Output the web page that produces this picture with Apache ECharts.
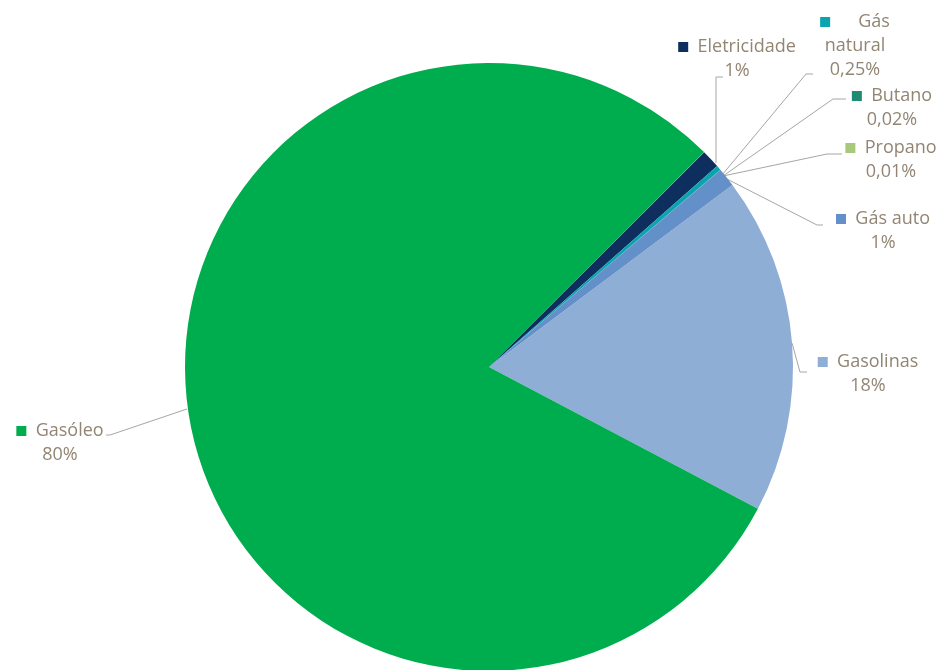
<!DOCTYPE html>
<html>
<head>
<meta charset="utf-8">
<script src="https://cdn.jsdelivr.net/npm/echarts@6/dist/echarts.min.js"></script>
<style>
  html, body { margin: 0; padding: 0; background: #fff; }
  #chart { width: 941px; height: 670px; }
</style>
</head>
<body>
<div id="chart"></div>
<script>
// Energy consumption share by fuel type (%)
const categories = ['Gasolinas', 'Gasóleo', 'Propano', 'Eletricidade', 'Gás natural', 'Butano', 'Gás auto'];
const shares = [18, 80, 0.01, 1, 0.25, 0.02, 1];
const labelNames = ['Gasolinas', 'Gasóleo', 'Propano', 'Eletricidade', 'Gás\nnatural', 'Butano', 'Gás auto'];

// Slice colours
const colors = ['#8FAED6', '#00AD4E', '#A8C97C', '#0E2F5E', '#0AA3B1', '#1F8B70', '#6390C9'];

// Label placement: block centre, optional leader start, elbow and end points
const labelCenters = [[868, 374], [60, 443], [891, 160], [737, 59], [855, 46], [892, 108], [883, 231]];
const leaderStarts = [null, [187, 409], [723, 176], [716, 163], [722, 175], [723, 176], [723, 177]];
const leaderBends = [
  [[800, 372], [807, 372]],
  [[110, 435], [106, 435]],
  [[827, 154], [842, 154]],
  [[716, 77], [723, 77]],
  [[806, 74], [813, 74]],
  [[833, 99], [846, 99]],
  [[817, 225], [823, 225]]
];
const squareGaps = ['  ', '  ', '  ', '  ', '      ', '  ', '  '];

const textColor = '#928574';
const fontFamily = 'Open Sans';

const rich = {};
colors.forEach((c, i) => {
  rich['sq' + i] = { width: 10, height: 10, backgroundColor: c };
});

const chart = echarts.init(document.getElementById('chart'));

chart.setOption({
  animation: false,
  backgroundColor: '#ffffff',
  series: [{
    type: 'pie',
    center: [489, 367],
    radius: 304,
    startAngle: 36.8,
    clockwise: true,
    avoidLabelOverlap: false,
    minAngle: 0,
    data: categories.map((name, i) => ({
      name: name,
      value: shares[i],
      itemStyle: { color: colors[i] }
    })),
    itemStyle: { borderWidth: 0 },
    emphasis: { disabled: true },
    label: {
      show: true,
      position: 'outside',
      align: 'center',
      color: textColor,
      fontSize: 18,
      lineHeight: 24,
      fontFamily: fontFamily,
      formatter: function (p) {
        const i = p.dataIndex;
        const nameLines = labelNames[i].split('\n');
        const first = '{sq' + i + '|}' + squareGaps[i] + nameLines[0];
        const rest = nameLines.slice(1);
        const pct = String(shares[i]).replace('.', ',') + '%';
        return [first].concat(rest).concat([pct]).join('\n');
      },
      rich: rich
    },
    labelLine: {
      show: true,
      length: 10,
      length2: 10,
      lineStyle: { color: '#A6A6A6', width: 1 }
    },
    labelLayout: function (params) {
      const i = params.dataIndex;
      const start = leaderStarts[i] || (params.labelLinePoints ? params.labelLinePoints[0] : [0, 0]);
      const c = labelCenters[i];
      return {
        x: c[0],
        y: c[1],
        align: 'center',
        verticalAlign: 'middle',
        labelLinePoints: [start, leaderBends[i][0], leaderBends[i][1]]
      };
    }
  }]
});
</script>
</body>
</html>
